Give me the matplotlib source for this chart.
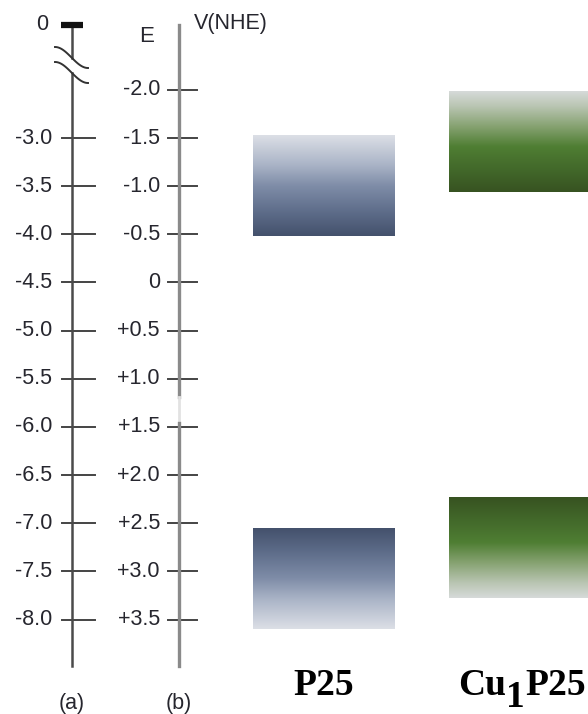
import numpy as np
import matplotlib
matplotlib.use("Agg")
import matplotlib.pyplot as plt
from matplotlib.colors import LinearSegmentedColormap

# ---- data -------------------------------------------------------------
# absolute energy scale (eV vs vacuum) shown on scale (a)
E_TICKS = [-3.0, -3.5, -4.0, -4.5, -5.0, -5.5, -6.0, -6.5, -7.0, -7.5, -8.0]
# electrochemical scale (V vs NHE) shown on scale (b)
V_TICKS = [-2.0, -1.5, -1.0, -0.5, 0.0, 0.5, 1.0, 1.5, 2.0, 2.5, 3.0, 3.5]
V_LABELS = ["-2.0", "-1.5", "-1.0", "-0.5", "0", "+0.5", "+1.0", "+1.5",
            "+2.0", "+2.5", "+3.0", "+3.5"]
NHE_VS_VACUUM = 4.5          # E(vacuum) = -4.5 - V(NHE)

SAMPLES = ["P25", "Cu1P25"]
CB_TOP = [-1.52, -1.98]      # conduction band region, V vs NHE
CB_BOTTOM = [-0.48, -0.94]
VB_TOP = [2.56, 2.24]        # valence band region, V vs NHE
VB_BOTTOM = [3.60, 3.28]

# ---- figure / layout -------------------------------------------------
W, H = 588, 714
PX_PER_V = 96.3
V0_PX = 282.5                # pixel row of 0 V

fig = plt.figure(figsize=(W / 100, H / 100), dpi=100)

# potential axes: x in layout pixels, y in volts vs NHE (negative up)
ax = fig.add_axes([0, 0, 1, 1])
ax.set_xlim(0, W)
ax.set_ylim((H - V0_PX) / PX_PER_V, -V0_PX / PX_PER_V)
ax.axis("off")

# layout axes in pixel units for decorations
lay = fig.add_axes([0, 0, 1, 1])
lay.set_xlim(0, W)
lay.set_ylim(H, 0)
lay.axis("off")

TXT = "#26262e"
SANS = "Liberation Sans"
SERIF = "Liberation Serif"
TICK_FS = 15.5

AX_A_X, AX_B_X = 71.5, 178.5
AX_TOP, AX_BOT = 25, 666

# scale (a): axis line with break, vacuum level marker
lay.plot([AX_A_X, AX_A_X], [AX_TOP, 57.5], color="#4a4a4a", lw=1.8)
lay.plot([AX_A_X, AX_A_X], [72.5, AX_BOT], color="#4a4a4a", lw=1.8)
t = np.linspace(0, 1, 60)
for y0 in (47, 62):
    lay.plot(55 + 33 * t, y0 + 21 * (1 - np.cos(np.pi * t)) / 2,
             color="#333333", lw=1.4)
lay.plot([61, 83], [25, 25], color="#111111", lw=4.5,
         solid_capstyle="butt", zorder=5)
lay.text(42, 24, "0", ha="center", va="center", fontsize=TICK_FS,
         family=SANS, color=TXT)

# scale (b) line (with its small interruption)
lay.plot([AX_B_X, AX_B_X], [AX_TOP, 397], color="#8a8a8a", lw=2.4)
lay.plot([AX_B_X, AX_B_X], [397, 423], color="#e2e2e2", lw=2.0)
lay.plot([AX_B_X, AX_B_X], [423, AX_BOT], color="#8a8a8a", lw=2.4)

# ticks and labels for scale (a)
for e in E_TICKS:
    v = -e - NHE_VS_VACUUM
    ax.plot([62, 95], [v, v], color="#444444", lw=1.4)
    ax.text(52, v, f"{e:.1f}", ha="right", va="center", fontsize=TICK_FS,
            family=SANS, color=TXT)

# ticks and labels for scale (b)
for v, lab in zip(V_TICKS, V_LABELS):
    ax.plot([168, 197], [v, v], color="#444444", lw=1.4)
    ax.text(160, v, lab, ha="right", va="center", fontsize=TICK_FS,
            family=SANS, color=TXT)

lay.text(146.5, 36, "E", ha="center", va="center", fontsize=TICK_FS + 0.5,
         family=SANS, color=TXT)
lay.text(194, 23, "V(NHE)", ha="left", va="center", fontsize=TICK_FS,
         family=SANS, color=TXT)
lay.text(AX_A_X, 704, "(a)", ha="center", va="center", fontsize=TICK_FS,
         family=SANS, color=TXT)
lay.text(AX_B_X, 704, "(b)", ha="center", va="center", fontsize=TICK_FS,
         family=SANS, color=TXT)

# ---- band blocks ------------------------------------------------------
blue = LinearSegmentedColormap.from_list(
    "band_blue", [(0, "#dcdfe6"), (0.3, "#a9b3c6"), (0.5, "#7f8da8"),
                  (0.75, "#5f6e8b"), (1, "#44516c")])
green = LinearSegmentedColormap.from_list(
    "band_green", [(0, "#d6dad9"), (0.15, "#b9c5b2"), (0.35, "#86a271"),
                   (0.55, "#4f7e33"), (0.78, "#42682a"), (1, "#375221")])
CMAPS = [blue, green]

X_CENTER = [323.5, 520.0]
BAR_W = 142
grad = np.linspace(0, 1, 256)[:, None]

for i, name in enumerate(SAMPLES):
    x0, x1 = X_CENTER[i] - BAR_W / 2, X_CENTER[i] + BAR_W / 2
    # conduction band: light at top, dark towards the gap
    ax.imshow(grad, cmap=CMAPS[i], origin="lower", aspect="auto",
              interpolation="bilinear",
              extent=(x0, x1, CB_TOP[i], CB_BOTTOM[i]))
    # valence band: dark at the gap, light at the bottom
    ax.imshow(1 - grad, cmap=CMAPS[i], origin="lower", aspect="auto",
              interpolation="bilinear", vmin=0, vmax=1,
              extent=(x0, x1, VB_TOP[i], VB_BOTTOM[i]))

ax.set_xlim(0, W)
ax.set_ylim((H - V0_PX) / PX_PER_V, -V0_PX / PX_PER_V)

# ---- sample names -----------------------------------------------------
LABEL_FS = 27
LABEL_Y = 695                # baseline
lay.text(X_CENTER[0], LABEL_Y, "P25", ha="center", va="baseline",
         fontsize=LABEL_FS, family=SERIF, weight="bold", color="black")

renderer = fig.canvas.get_renderer()
parts = [("Cu", 0), ("1", 12), ("P25", 0)]
texts = []
for s, dy in parts:
    texts.append(lay.text(0, LABEL_Y + dy, s, ha="left", va="baseline",
                          fontsize=LABEL_FS, family=SERIF, weight="bold",
                          color="black"))
widths = [tx.get_window_extent(renderer).width for tx in texts]
x = X_CENTER[1] + 2 - sum(widths) / 2
for tx, w in zip(texts, widths):
    tx.set_x(x)
    x += w

fig.savefig("out.png", dpi=100)
